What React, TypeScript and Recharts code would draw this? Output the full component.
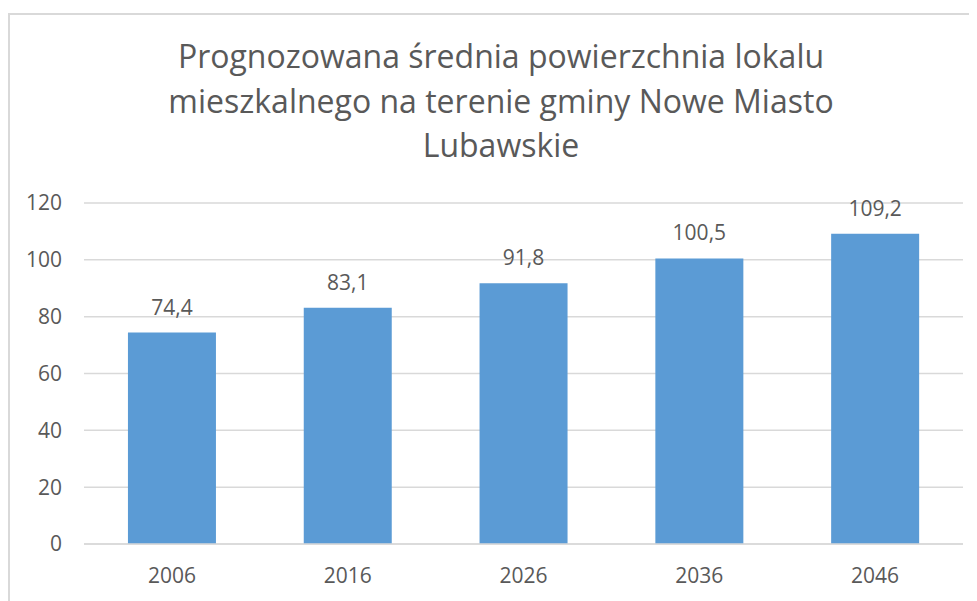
import { BarChart, Bar, XAxis, YAxis, CartesianGrid, LabelList } from "recharts";

const years = ["2006", "2016", "2026", "2036", "2046"];
const areas = [74.4, 83.1, 91.8, 100.5, 109.2];
const yTicks = [0, 20, 40, 60, 80, 100, 120];
const titleLines = [
  "Prognozowana średnia powierzchnia lokalu",
  "mieszkalnego na terenie gminy Nowe Miasto",
  "Lubawskie",
];

const data = years.map((year, i) => ({ year, value: areas[i] }));

const TEXT = "#595959";
const GRID = "#d9d9d9";
const FONT = "'Open Sans', sans-serif";

const fmt = (v: number) => v.toFixed(1).replace(".", ",");

export default function App() {
  return (
    <div
      style={{
        position: "relative",
        width: 969,
        height: 593,
        overflow: "hidden",
        fontFamily: FONT,
      }}
    >
      {/* chart frame */}
      <div
        style={{
          position: "absolute",
          left: 0,
          top: 5,
          width: 986,
          height: 700,
          border: `2px solid ${GRID}`,
          boxSizing: "border-box",
        }}
      />
      <div
        style={{
          position: "absolute",
          left: 0,
          top: 26,
          width: 986,
          textAlign: "center",
          color: TEXT,
          fontSize: 32,
          lineHeight: "44.5px",
          whiteSpace: "nowrap",
        }}
      >
        {titleLines.map((l) => (
          <div key={l}>{l}</div>
        ))}
      </div>
      <div style={{ position: "absolute", left: 0, top: 0 }}>
        <BarChart
          width={969}
          height={593}
          data={data}
          margin={{ top: 195, right: 14, left: 0, bottom: 27 }}
          barCategoryGap="25%"
          style={{ fontFamily: FONT }}
        >
          <CartesianGrid vertical={false} stroke={GRID} strokeWidth={1.5} />
          <XAxis
            dataKey="year"
            height={30}
            tickLine={false}
            axisLine={{ stroke: GRID, strokeWidth: 1.5 }}
            tickMargin={18}
            tick={{ fill: TEXT, fontSize: 21 }}
          />
          <YAxis
            width={76}
            domain={[0, 120]}
            ticks={yTicks}
            tickLine={false}
            axisLine={false}
            tickMargin={16}
            tick={{ fill: TEXT, fontSize: 21 }}
          />
          <Bar dataKey="value" fill="#5b9bd5" isAnimationActive={false}>
            <LabelList
              dataKey="value"
              position="top"
              offset={18}
              formatter={(v: number) => fmt(v)}
              style={{ fill: TEXT, fontSize: 21 }}
            />
          </Bar>
        </BarChart>
      </div>
    </div>
  );
}
